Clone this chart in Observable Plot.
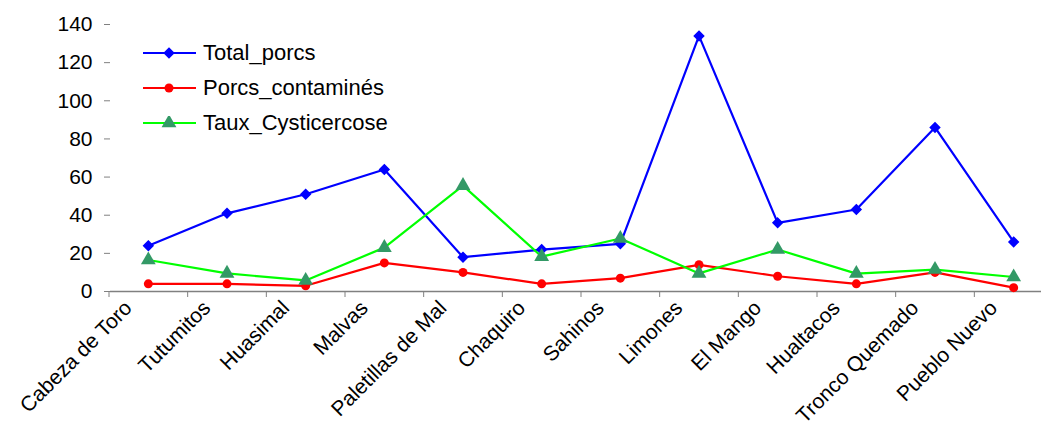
<!DOCTYPE html>
<html>
<head>
<meta charset="utf-8">
<script src="https://cdn.jsdelivr.net/npm/d3@7"></script>
<script src="https://cdn.jsdelivr.net/npm/@observablehq/plot@0.6"></script>
<style>
  html, body { margin: 0; padding: 0; background: #fff; }
  #wrap { position: relative; width: 1041px; height: 428px; font-family: "Liberation Sans", Arial, sans-serif; }
  #legend { position: absolute; left: 143px; top: 35px; }
  .row { display: flex; align-items: center; height: 35px; font-size: 22px; color: #000; }
  .row svg { margin-right: 7px; }
</style>
</head>
<body>
<div id="wrap"></div>
<script>
const villages = ["Cabeza de Toro", "Tutumitos", "Huasimal", "Malvas", "Paletillas de Mal", "Chaquiro", "Sahinos", "Limones", "El Mango", "Hualtacos", "Tronco Quemado", "Pueblo Nuevo"];
const totalPorcs = [24, 41, 51, 64, 18, 22, 25, 134, 36, 43, 86, 26];
const porcsContamines = [4, 4, 3, 15, 10, 4, 7, 14, 8, 4, 10, 2];
const tauxCysticercose = [16.5, 9.5, 5.8, 23, 55.5, 18.3, 27.8, 9.5, 22, 9.4, 11.5, 7.6];
const yTicks = [0, 20, 40, 60, 80, 100, 120, 140];

const seriesNames = ["Total_porcs", "Porcs_contaminés", "Taux_Cysticercose"];
const lineColors = ["#0000FF", "#FF0000", "#00FF00"];
const markerColors = ["#0000FF", "#FF0000", "#339966"];
const markerSymbols = ["diamond2", "circle", "triangle"];
const markerR = [4.2, 4.5, 5.5];
const allValues = [totalPorcs, porcsContamines, tauxCysticercose];

const rows = [];
allValues.forEach((vals, s) => vals.forEach((v, i) => rows.push({series: seriesNames[s], village: villages[i], value: v})));

const axisGray = "#808080";
const marks = [
  Plot.axisY({ticks: yTicks, tickSize: 6, tickPadding: 12, fontSize: 21, label: null, stroke: axisGray, color: "#000", tickFormat: d => d}),
  Plot.axisX({tickSize: 6, text: null, label: null, dx: -39.33, stroke: axisGray}),
  Plot.axisX({tickSize: 0, tickRotate: -45, tickPadding: 13, dx: -20, fontSize: 21, label: null, color: "#000"}),
  Plot.ruleX([0], {frameAnchor: "left", stroke: axisGray, strokeWidth: 1.5}),
  Plot.ruleY([0], {stroke: axisGray, strokeWidth: 1.5})
];
seriesNames.forEach((name, s) => {
  const data = rows.filter(r => r.series === name);
  marks.push(Plot.line(data, {x: "village", y: "value", stroke: lineColors[s], strokeWidth: 2.2}));
});
seriesNames.forEach((name, s) => {
  const data = rows.filter(r => r.series === name);
  marks.push(Plot.dot(data, {x: "village", y: "value", symbol: markerSymbols[s], r: markerR[s], fill: markerColors[s], stroke: s === 0 ? markerColors[s] : "none", strokeWidth: 1.5}));
});

const chart = Plot.plot({
  width: 1041,
  height: 428,
  marginLeft: 110,
  marginRight: 0,
  marginTop: 24,
  marginBottom: 137,
  style: {fontFamily: "Liberation Sans, Arial, sans-serif", background: "#fff"},
  x: {domain: villages, type: "band", range: [108.5, 1052.5], padding: 0, round: false, axis: null},
  y: {domain: [0, 140], range: [291, 24], axis: null},
  marks
});
const wrap = document.getElementById("wrap");
wrap.appendChild(chart);

const legend = document.createElement("div");
legend.id = "legend";
seriesNames.forEach((name, s) => {
  const row = document.createElement("div");
  row.className = "row";
  const sw = d3.create("svg").attr("width", 53).attr("height", 14);
  sw.append("line").attr("x1", 0).attr("x2", 53).attr("y1", 7).attr("y2", 7).attr("stroke", lineColors[s]).attr("stroke-width", 2.2);
  const sym = {diamond2: d3.symbolDiamond2, circle: d3.symbolCircle, triangle: d3.symbolTriangle}[markerSymbols[s]];
  sw.append("path").attr("transform", "translate(26,7)").attr("d", d3.symbol(sym, Math.PI * markerR[s] * markerR[s])()).attr("fill", markerColors[s]).attr("stroke", s === 0 ? markerColors[s] : "none").attr("stroke-width", 1.5);
  row.appendChild(sw.node());
  const t = document.createElement("span");
  t.textContent = name;
  row.appendChild(t);
  legend.appendChild(row);
});
wrap.appendChild(legend);
</script>
</body>
</html>
